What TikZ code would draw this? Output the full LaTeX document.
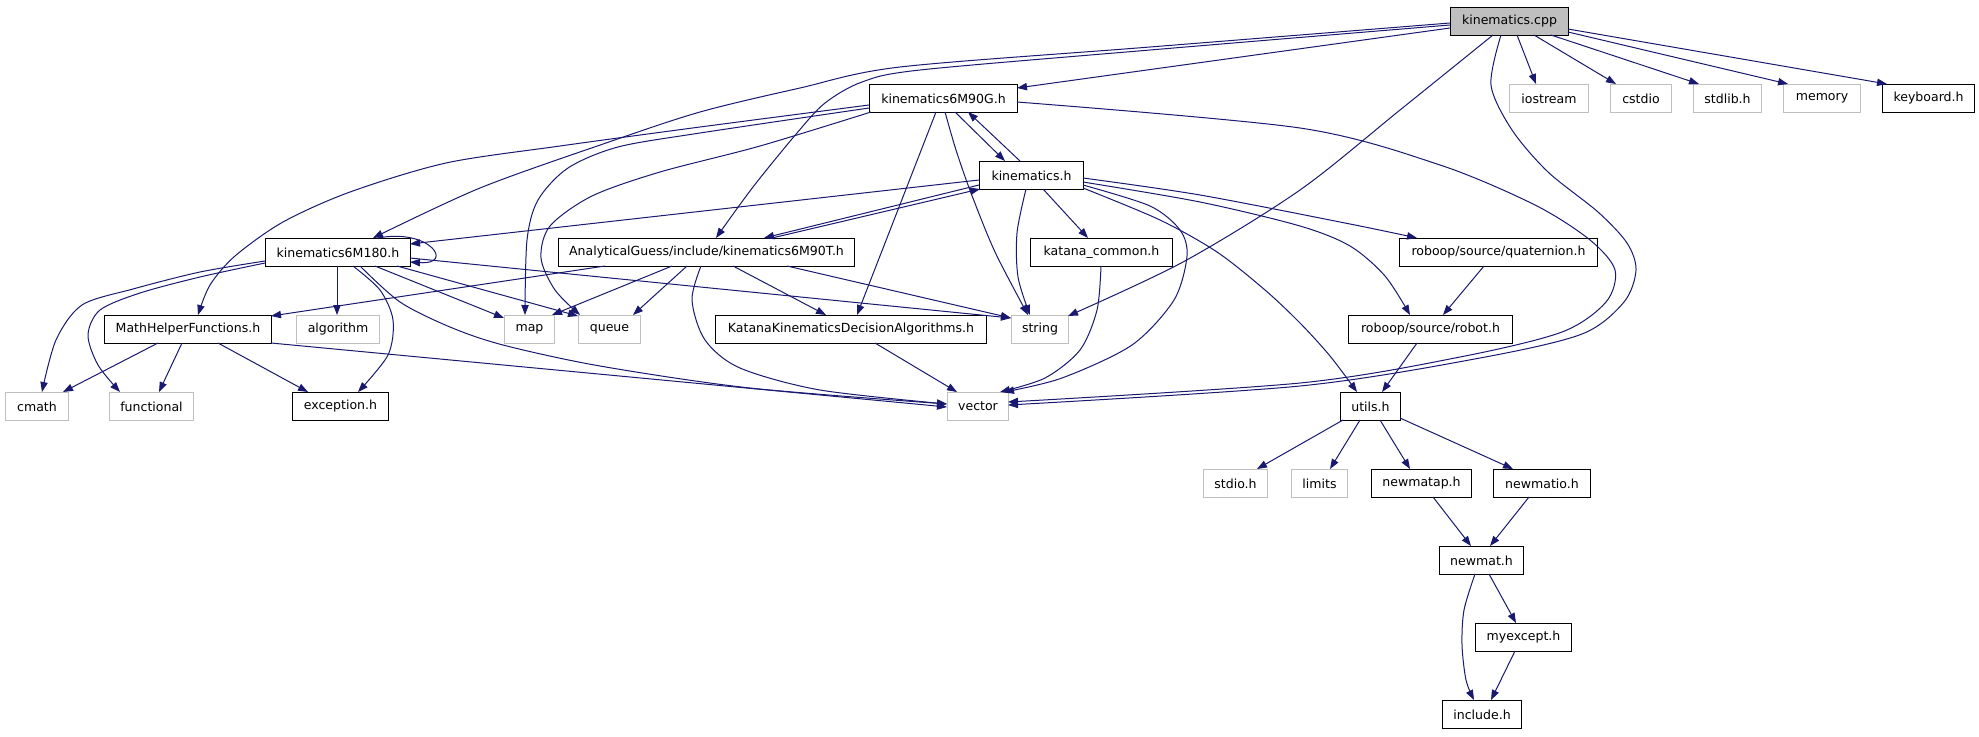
\documentclass[tikz,border=0pt]{standalone}
\usepackage{fontspec}
\setmainfont{DejaVu Sans}
\usetikzlibrary{arrows.meta}
\definecolor{edgec}{HTML}{191970}
\definecolor{grb}{HTML}{BFBFBF}
\begin{document}
\begin{tikzpicture}[x=0.75pt,y=-0.75pt,
  nd/.style={line width=0.75pt, inner sep=0pt, minimum height=21pt, minimum width=#1*0.75pt, anchor=north west, fill=white, font=\fontsize{9.4pt}{11pt}\selectfont},
  blk/.style={nd=#1, draw=black},
  ext/.style={nd=#1, draw=grb},
  edg/.style={draw=edgec, line width=0.75pt, -{Triangle[length=7.5pt,width=5.5pt]}}]
\useasboundingbox[fill=white] (0,0) rectangle (1979,736);
% nodes
\node[blk=118, fill=grb] (kc) at (1450,7) {kinematics.cpp};
\node[blk=148] (m90g) at (869,84) {kinematics6M90G.h};
\node[ext=79] (iostream) at (1509,84) {iostream};
\node[ext=61] (cstdio) at (1610,84) {cstdio};
\node[ext=68] (stdlib) at (1693,84) {stdlib.h};
\node[ext=77] (memory) at (1783,84) {memory};
\node[blk=92] (keyboard) at (1882,84) {keyboard.h};
\node[blk=104] (kinh) at (979,161) {kinematics.h};
\node[blk=145] (m180) at (265,238) {kinematics6M180.h};
\node[blk=296] (ag) at (558,238) {AnalyticalGuess/include/kinematics6M90T.h};
\node[blk=142] (katana) at (1030,238) {katana\_common.h};
\node[blk=198] (quat) at (1399,238) {roboop/source/quaternion.h};
\node[blk=167] (mhf) at (104,315) {MathHelperFunctions.h};
\node[ext=83] (algorithm) at (296,315) {algorithm};
\node[ext=50] (map) at (504,315) {map};
\node[ext=62] (queue) at (578,315) {queue};
\node[blk=271] (kda) at (715,315) {KatanaKinematicsDecisionAlgorithms.h};
\node[ext=57] (string) at (1011,315) {string};
\node[blk=164] (robot) at (1348,315) {roboop/source/robot.h};
\node[ext=63] (cmath) at (5,392) {cmath};
\node[ext=84] (functional) at (109,392) {functional};
\node[blk=96] (exception) at (292,392) {exception.h};
\node[ext=61] (vector) at (947,392) {vector};
\node[blk=60] (utils) at (1340,392) {utils.h};
\node[ext=64] (stdio) at (1203,469) {stdio.h};
\node[ext=56] (limits) at (1291,469) {limits};
\node[blk=100] (newmatap) at (1371,469) {newmatap.h};
\node[blk=97] (newmatio) at (1493,469) {newmatio.h};
\node[blk=84] (newmat) at (1439,546) {newmat.h};
\node[blk=96] (myexcept) at (1475,623) {myexcept.h};
\node[blk=79] (include) at (1442,700) {include.h};
% kinematics.cpp
\draw[edg] ([shift={(0,21)}]kc.north west) -- ([shift={(148,4)}]m90g.north west);
\draw[edg] plot[smooth] coordinates {([shift={(0,16)}]kc.north west) (1150,47) (900,67) (800,88) (700,112) (606,143) (480,188) ([shift={(108,0)}]m180.north west)};
\draw[edg] plot[smooth] coordinates {([shift={(0,18)}]kc.north west) (1150,50) (920,70) (862,82) (825,103) (797,133) (753,187) ([shift={(158,0)}]ag.north west)};
\draw[edg] plot[smooth] coordinates {([shift={(43,28)}]kc.north west) (1400,110) (1300,190) (1183,262) ([shift={(57,1)}]string.north west)};
\draw[edg] plot[smooth] coordinates {([shift={(51,28)}]kc.north west) (1491,85) (1512,130) (1548,172) (1598,212) (1627,243) (1636,270) (1624,302) (1582,334) (1480,358) (1300,386) ([shift={(61,13)}]vector.north west)};
\draw[edg] ([shift={(67,28)}]kc.north west) -- ([shift={(27,0)}]iostream.north west);
\draw[edg] ([shift={(84,28)}]kc.north west) -- ([shift={(6,0)}]cstdio.north west);
\draw[edg] ([shift={(101,28)}]kc.north west) -- ([shift={(6,0)}]stdlib.north west);
\draw[edg] ([shift={(118,25)}]kc.north west) -- ([shift={(5,0)}]memory.north west);
\draw[edg] ([shift={(118,22)}]kc.north west) -- ([shift={(5,0)}]keyboard.north west);
% kinematics6M90G.h
\draw[edg] ([shift={(86,28)}]m90g.north west) -- ([shift={(26,0)}]kinh.north west);
\draw[edg] ([shift={(41,0)}]kinh.north west) -- ([shift={(99,28)}]m90g.north west);
\draw[edg] plot[smooth] coordinates {([shift={(0,21)}]m90g.north west) (700,127) (560,146) (446,163) (350,192) (283,222) (235,256) (210,285) ([shift={(94,0)}]mhf.north west)};
\draw[edg] plot[smooth] coordinates {([shift={(0,24)}]m90g.north west) (700,133) (618,147) (568,168) (538,200) (527,240) ([shift={(21,0)}]map.north west)};
\draw[edg] plot[smooth] coordinates {([shift={(2,28)}]m90g.north west) (760,146) (660,172) (592,196) (550,226) (541,258) (555,290) ([shift={(2,0)}]queue.north west)};
\draw[edg] ([shift={(67,28)}]m90g.north west) -- ([shift={(142,0)}]kda.north west);
\draw[edg] plot[smooth] coordinates {([shift={(76,28)}]m90g.north west) (956,150) (971,193) (995,252) ([shift={(17,0)}]string.north west)};
\draw[edg] plot[smooth] coordinates {([shift={(148,18)}]m90g.north west) (1300,128) (1440,165) (1535,205) (1590,240) (1615,270) (1606,302) (1562,332) (1460,357) (1300,383) ([shift={(61,10)}]vector.north west)};
% kinematics.h
\draw[edg] ([shift={(0,19)}]kinh.north west) -- ([shift={(145,6)}]m180.north west);
\draw[edg] ([shift={(0,24)}]kinh.north west) -- ([shift={(206,0)}]ag.north west);
\draw[edg] ([shift={(214,0)}]ag.north west) -- ([shift={(1,28)}]kinh.north west);
\draw[edg] plot[smooth] coordinates {([shift={(47,28)}]kinh.north west) (1017,233) (1018,277) ([shift={(19,0)}]string.north west)};
\draw[edg] ([shift={(64,28)}]kinh.north west) -- ([shift={(58,0)}]katana.north west);
\draw[edg] plot[smooth] coordinates {([shift={(104,17)}]kinh.north west) (1200,195) (1350,224) ([shift={(18,0)}]quat.north west)};
\draw[edg] plot[smooth] coordinates {([shift={(104,21)}]kinh.north west) (1200,202) (1300,226) (1350,246) (1385,276) ([shift={(62,0)}]robot.north west)};
\draw[edg] plot[smooth] coordinates {([shift={(104,24)}]kinh.north west) (1150,206) (1180,230) (1187,256) (1174,300) (1132,345) (1062,378) ([shift={(57,0)}]vector.north west)};
\draw[edg] plot[smooth] coordinates {([shift={(104,27)}]kinh.north west) (1160,220) (1217,252) (1265,290) (1300,323) (1330,356) ([shift={(17,0)}]utils.north west)};
% AnalyticalGuess
\draw[edg] ([shift={(47,28)}]ag.north west) -- ([shift={(167,1)}]mhf.north west);
\draw[edg] ([shift={(114,28)}]ag.north west) -- ([shift={(48,0)}]map.north west);
\draw[edg] ([shift={(129,28)}]ag.north west) -- ([shift={(55,0)}]queue.north west);
\draw[edg] ([shift={(175,28)}]ag.north west) -- ([shift={(111,0)}]kda.north west);
\draw[edg] ([shift={(229,28)}]ag.north west) -- ([shift={(0,3)}]string.north west);
\draw[edg] plot[smooth] coordinates {([shift={(143,28)}]ag.north west) (692,300) (705,340) (740,368) (820,390) ([shift={(0,12)}]vector.north west)};
% kinematics6M180.h
\draw[edg] ([shift={(113,0)}]m180.north west) .. controls (430,228) and (455,265) .. ([shift={(145,24)}]m180.north west);
\draw[edg] ([shift={(72,28)}]m180.north west) -- ([shift={(41,0)}]algorithm.north west);
\draw[edg] plot[smooth] coordinates {([shift={(88,28)}]m180.north west) (380,290) (393,320) (388,355) ([shift={(66,0)}]exception.north west)};
\draw[edg] plot[smooth] coordinates {([shift={(0,23)}]m180.north west) (200,272) (133,289) (82,305) (56,340) ([shift={(37,0)}]cmath.north west)};
\draw[edg] plot[smooth] coordinates {([shift={(0,25)}]m180.north west) (200,277) (140,293) (100,310) (88,335) (98,365) ([shift={(11,0)}]functional.north west)};
\draw[edg] ([shift={(110,28)}]m180.north west) -- ([shift={(0,3)}]map.north west);
\draw[edg] ([shift={(132,28)}]m180.north west) -- ([shift={(0,1)}]queue.north west);
\draw[edg] ([shift={(145,20)}]m180.north west) -- ([shift={(0,3)}]string.north west);
\draw[edg] plot[smooth] coordinates {([shift={(95,28)}]m180.north west) (400,302) (450,327) (503,345) (600,366) (750,388) ([shift={(0,12)}]vector.north west)};
% MathHelperFunctions.h
\draw[edg] ([shift={(54,28)}]mhf.north west) -- ([shift={(58,0)}]cmath.north west);
\draw[edg] ([shift={(78,28)}]mhf.north west) -- ([shift={(50,0)}]functional.north west);
\draw[edg] ([shift={(114,28)}]mhf.north west) -- ([shift={(16,0)}]exception.north west);
\draw[edg] ([shift={(167,28)}]mhf.north west) -- ([shift={(0,15)}]vector.north west);
% others
\draw[edg] ([shift={(160,28)}]kda.north west) -- ([shift={(10,0)}]vector.north west);
\draw[edg] plot[smooth] coordinates {([shift={(71,28)}]katana.north west) (1097,310) (1080,350) (1045,378) ([shift={(53,0)}]vector.north west)};
\draw[edg] ([shift={(85,28)}]quat.north west) -- ([shift={(95,0)}]robot.north west);
\draw[edg] ([shift={(69,28)}]robot.north west) -- ([shift={(42,0)}]utils.north west);
\draw[edg] ([shift={(3,28)}]utils.north west) -- ([shift={(54,0)}]stdio.north west);
\draw[edg] ([shift={(20,28)}]utils.north west) -- ([shift={(39,0)}]limits.north west);
\draw[edg] ([shift={(40,28)}]utils.north west) -- ([shift={(39,0)}]newmatap.north west);
\draw[edg] ([shift={(60,26)}]utils.north west) -- ([shift={(20,0)}]newmatio.north west);
\draw[edg] ([shift={(62,28)}]newmatap.north west) -- ([shift={(32,0)}]newmat.north west);
\draw[edg] ([shift={(36,28)}]newmatio.north west) -- ([shift={(51,0)}]newmat.north west);
\draw[edg] ([shift={(50,28)}]newmat.north west) -- ([shift={(41,0)}]myexcept.north west);
\draw[edg] plot[smooth] coordinates {([shift={(36,28)}]newmat.north west) (1464,610) (1462,645) (1466,680) ([shift={(32,0)}]include.north west)};
\draw[edg] ([shift={(40,28)}]myexcept.north west) -- ([shift={(49,0)}]include.north west);
\end{tikzpicture}
\end{document}
